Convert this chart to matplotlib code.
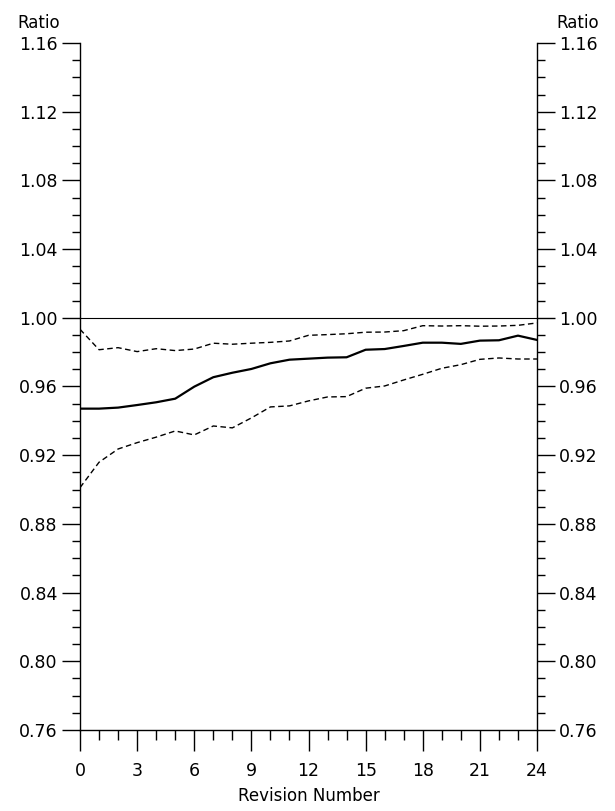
import numpy as np
import matplotlib.pyplot as plt
from matplotlib.ticker import MultipleLocator

# revision numbers and the three ratio curves
revision = list(range(25))
ratio_mid = [0.9471, 0.9471, 0.9477, 0.9492, 0.9508, 0.9529, 0.9599, 0.9654,
             0.9680, 0.9702, 0.9735, 0.9756, 0.9762, 0.9768, 0.9770, 0.9814,
             0.9818, 0.9836, 0.9855, 0.9855, 0.9848, 0.9867, 0.9869, 0.9896,
             0.9871]
ratio_upper = [0.9933, 0.9814, 0.9826, 0.9803, 0.9820, 0.9809, 0.9818, 0.9852,
               0.9846, 0.9852, 0.9857, 0.9865, 0.9898, 0.9902, 0.9907, 0.9916,
               0.9917, 0.9925, 0.9954, 0.9952, 0.9954, 0.9951, 0.9952, 0.9956,
               0.9970]
ratio_lower = [0.9011, 0.9159, 0.9236, 0.9273, 0.9305, 0.9341, 0.9318, 0.9370,
               0.9359, 0.9417, 0.9481, 0.9487, 0.9516, 0.9539, 0.9541, 0.9590,
               0.9603, 0.9638, 0.9671, 0.9706, 0.9727, 0.9758, 0.9766, 0.9760,
               0.9760]
y_ticks = [0.76, 0.80, 0.84, 0.88, 0.92, 0.96, 1.00, 1.04, 1.08, 1.12, 1.16]
x_ticks = [0, 3, 6, 9, 12, 15, 18, 21, 24]

plt.rcParams['font.family'] = ['DejaVu Sans']

fig = plt.figure(figsize=(6.15, 8.11), dpi=100)
ax = fig.add_axes([0.1301, 0.0999, 0.7431, 0.8471])

# reference line at ratio 1
ax.plot([0, 24], [1.0, 1.0], color='black', lw=0.8)

ax.plot(revision, ratio_mid, color='black', lw=1.6)
ax.plot(revision, ratio_upper, color='black', lw=1.0, dashes=(4, 2.5))
ax.plot(revision, ratio_lower, color='black', lw=1.0, dashes=(4, 2.5))

ax.set_xlim(0, 24)
ax.set_ylim(0.76, 1.16)

ax.spines['top'].set_visible(False)
for s in ['left', 'right', 'bottom']:
    ax.spines[s].set_linewidth(1.0)

ax.set_yticks(y_ticks)
ax.set_yticklabels(['%.2f' % v for v in y_ticks])
ax.yaxis.set_minor_locator(MultipleLocator(0.01))
ax.set_xticks(x_ticks)
ax.xaxis.set_minor_locator(MultipleLocator(1))

ax.tick_params(axis='y', which='both', direction='out', left=True, right=True,
               labelleft=True, labelright=True, labelsize=12.5, width=1.0)
ax.tick_params(axis='y', which='major', length=13, pad=3)
ax.tick_params(axis='y', which='minor', length=6)
ax.tick_params(axis='x', which='both', direction='out', top=False,
               labelsize=12.5, width=1.0)
ax.tick_params(axis='x', which='major', length=15, pad=8)
ax.tick_params(axis='x', which='minor', length=7.5)

ax.set_xlabel('Revision Number', fontsize=12, labelpad=5)

fig.text(0.098, 0.972, 'Ratio', ha='right', va='center', fontsize=12)
fig.text(0.905, 0.972, 'Ratio', ha='left', va='center', fontsize=12)

plt.savefig('out.png', dpi=100)
